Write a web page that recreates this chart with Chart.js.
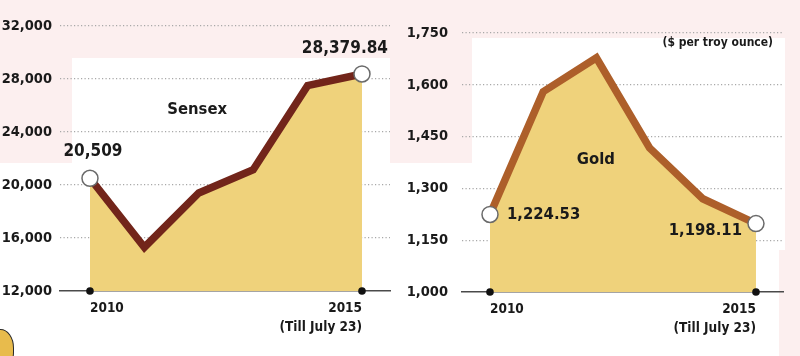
<!DOCTYPE html>
<html>
<head>
<meta charset="utf-8">
<script src="https://cdn.jsdelivr.net/npm/chart.js@4/dist/chart.umd.min.js"></script>
<style>
  html, body { margin: 0; padding: 0; background: #ffffff; }
  #wrap { position: relative; width: 800px; height: 356px; overflow: hidden; background: #ffffff; }
  .bg { position: absolute; }
  canvas { position: absolute; top: 0; }
</style>
</head>
<body>
<div id="wrap">
  <div class="bg" style="left:0;top:0;width:800px;height:163px;background:#fcefef"></div>
  <div class="bg" style="left:779px;top:0;width:21px;height:356px;background:#fcefef"></div>
  <div class="bg" style="left:72px;top:58px;width:318px;height:105px;background:#ffffff"></div>
  <div class="bg" style="left:472px;top:38px;width:313px;height:212px;background:#ffffff"></div>
  <div class="bg" style="left:-16px;top:329px;width:28px;height:40px;border-radius:45%;background:#e8bb4c;border:1.5px solid #2a2a2a"></div>
  <canvas id="c1" width="400" height="356" style="left:0"></canvas>
  <canvas id="c2" width="400" height="356" style="left:400px"></canvas>
</div>
<script>
// ---- data ----
const years = [2010, 2011, 2012, 2013, 2014, 2015];
const sensex = [20509, 15300, 19400, 21150, 27500, 28379.84];
const gold = [1224.53, 1580, 1678, 1417, 1270, 1198.11];
const sensexTicks = [12000, 16000, 20000, 24000, 28000, 32000];
const goldTicks = [1000, 1150, 1300, 1450, 1600, 1750];
const xTickYears = [2010, 2015];
const xTickLabels = ['2010', ['2015', '(Till July 23)']];
const sensexNotes = ['20,509', '28,379.84', 'Sensex'];
const goldNotes = ['1,224.53', '1,198.11', 'Gold', '($ per troy ounce)'];

const FONT = "'DejaVu Sans Condensed', 'Liberation Sans Narrow', sans-serif";
const FILL = '#efd27b';
const TEXT = '#1a1a1a';

const notesPlugin = {
  id: 'notes',
  afterDatasetsDraw(chart, args, opts) {
    const ctx = chart.ctx;
    const xs = chart.scales.x, ys = chart.scales.y;
    ctx.save();
    ctx.fillStyle = '#111';
    xs.ticks.forEach(t => {
      ctx.beginPath();
      ctx.arc(xs.getPixelForValue(t.value), chart.chartArea.bottom, 3.8, 0, Math.PI * 2);
      ctx.fill();
    });
    (opts.items || []).forEach(it => {
      let x, y;
      if (it.index !== undefined) {
        const el = chart.getDatasetMeta(0).data[it.index];
        x = el.x; y = el.y;
      } else if (it.area) {
        x = chart.chartArea.right;
        y = chart.chartArea.top;
      } else {
        x = xs.getPixelForValue(it.xv); y = ys.getPixelForValue(it.yv);
      }
      ctx.font = 'bold ' + it.size + 'px ' + FONT;
      ctx.fillStyle = TEXT;
      ctx.textAlign = it.align || 'center';
      ctx.textBaseline = 'middle';
      ctx.fillText(it.text, x + (it.dx || 0), y + (it.dy || 0));
    });
    ctx.restore();
  }
};

function makeChart(id, values, ticks, opts) {
  const n = values.length;
  return new Chart(document.getElementById(id), {
    type: 'line',
    data: {
      datasets: [{
        data: years.map((yr, i) => ({ x: yr, y: values[i] })),
        borderColor: opts.line,
        borderWidth: 7.5,
        backgroundColor: FILL,
        fill: 'start',
        tension: 0,
        borderJoinStyle: 'miter',
        pointRadius: ctx => (ctx.dataIndex === 0 || ctx.dataIndex === n - 1) ? 8 : 0,
        pointBackgroundColor: '#ffffff',
        pointBorderColor: '#6a6a6a',
        pointBorderWidth: 1.5,
        clip: false
      }]
    },
    options: {
      responsive: false,
      animation: false,
      layout: { padding: { left: 0, top: opts.top, right: opts.right, bottom: 0 } },
      plugins: {
        legend: { display: false },
        tooltip: { enabled: false },
        notes: { items: opts.notes }
      },
      scales: {
        x: {
          type: 'linear',
          min: opts.xmin, max: opts.xmax,
          afterBuildTicks: s => { s.ticks = xTickYears.map(v => ({ value: v })); },
          afterFit: s => { s.height = 356 - opts.bottom; },
          grid: { display: false, drawTicks: false },
          border: { display: true, color: '#4a4a4a', width: 1.5 },
          ticks: {
            align: 'inner',
            padding: 8,
            color: TEXT,
            font: { family: FONT, size: 13.5, weight: 'bold', lineHeight: 1.4 },
            callback: v => xTickLabels[xTickYears.indexOf(v)]
          }
        },
        y: {
          min: ticks[0], max: ticks[ticks.length - 1],
          afterBuildTicks: s => { s.ticks = ticks.map(v => ({ value: v })); },
          afterFit: s => { s.width = opts.left; },
          border: { display: false, dash: [1.2, 2.3] },
          grid: {
            drawTicks: false,
            color: c => c.tick && c.tick.value === ticks[0] ? 'rgba(0,0,0,0)' : '#a8a8a8',
            lineWidth: 1.2
          },
          ticks: {
            padding: opts.ypad,
            color: TEXT,
            font: { family: FONT, size: 14.5, weight: 'bold' },
            callback: v => v.toLocaleString('en-US')
          }
        }
      }
    },
    plugins: [notesPlugin]
  });
}

makeChart('c1', sensex, sensexTicks, {
  line: '#72251a', left: 60, right: 10, top: 26, bottom: 291, ypad: 8,
  xmin: 2009.449, xmax: 2015.515,
  notes: [
    { text: sensexNotes[0], index: 0, dx: 3, dy: -27, size: 17 },
    { text: sensexNotes[1], index: 5, dx: 26, dy: -25, size: 17, align: 'right' },
    { text: sensexNotes[2], xv: 2011.97, yv: 25660, size: 16.5 }
  ]
});

makeChart('c2', gold, goldTicks, {
  line: '#ad5f2a', left: 62, right: 17, top: 33, bottom: 292, ypad: 14,
  xmin: 2009.474, xmax: 2015.508,
  notes: [
    { text: goldNotes[0], index: 0, dx: 17, dy: 0, size: 16.5, align: 'left' },
    { text: goldNotes[1], index: 5, dx: -14, dy: 7, size: 16.5, align: 'right' },
    { text: goldNotes[2], xv: 2011.99, yv: 1382, size: 16.5 },
    { text: goldNotes[3], area: 'right', dx: -10, dy: 10, size: 12, align: 'right' }
  ]
});
</script>
</body>
</html>
